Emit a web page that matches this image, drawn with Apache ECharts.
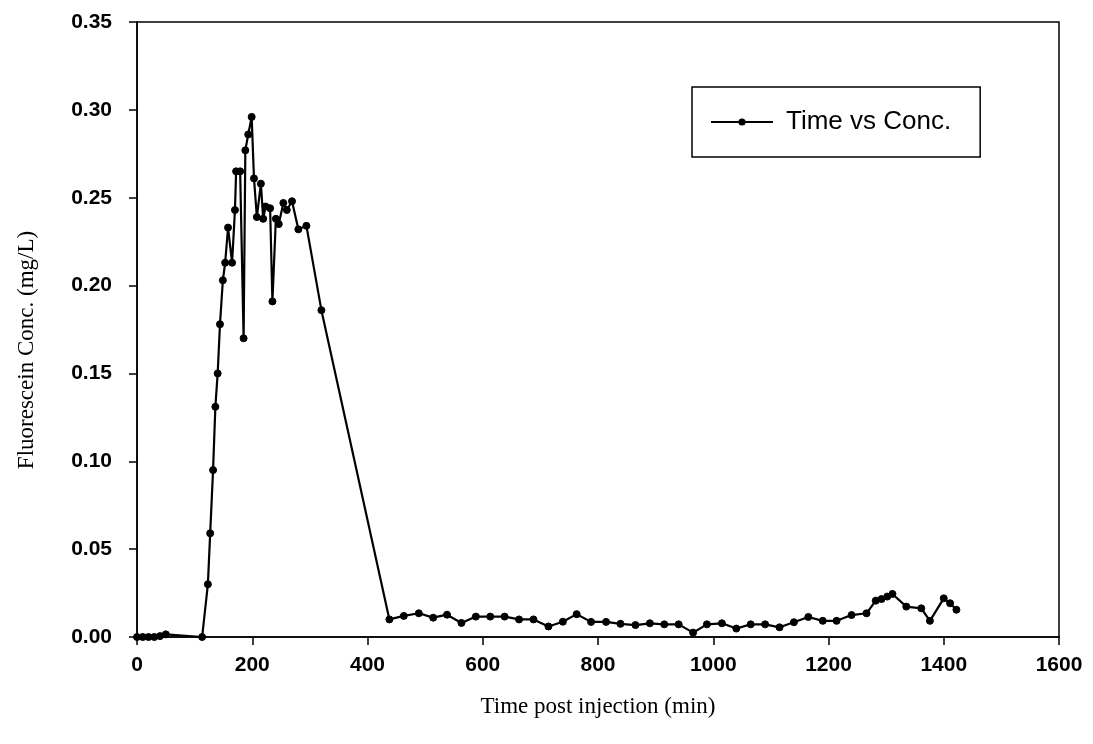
<!DOCTYPE html>
<html><head><meta charset="utf-8">
<script src="https://cdn.jsdelivr.net/npm/echarts@6/dist/echarts.min.js"></script>
<style>html,body{margin:0;padding:0;background:#fff}#c{width:1093px;height:744px}</style>
</head><body><div id="c"></div>
<script>
const timeMin = [0,10,20,30,40,50,113,123,127,132,136,140,144,149,153,158,165,170,172,179,185,188,193,199,203,208,215,219,223,231,235,241,246,254,260,269,280,294,320,
438,463,489,514,538,563,588,613,638,663,688,714,739,763,788,814,839,865,890,915,940,965,989,1015,1040,1065,1090,1115,1140,1165,1190,1214,1240,1266,1282,1292,1302,1311,1335,1361,1376,1400,1411,1422];
const concMgL = [0,0,0,0,0.0005,0.0015,0,0.030,0.059,0.095,0.131,0.150,0.178,0.203,0.213,0.233,0.213,0.243,0.265,0.265,0.170,0.277,0.286,0.296,0.261,0.239,0.258,0.238,0.245,0.244,0.191,0.238,0.235,0.247,0.243,0.248,0.232,0.234,0.186,
0.010,0.012,0.0135,0.011,0.0127,0.008,0.0116,0.0116,0.0116,0.010,0.010,0.006,0.0087,0.013,0.0086,0.0086,0.0075,0.0068,0.0078,0.0072,0.0072,0.0025,0.0072,0.0078,0.0048,0.0072,0.0072,0.0055,0.0084,0.0114,0.0092,0.0092,0.0125,0.0135,0.0207,0.0216,0.023,0.0245,0.0173,0.0163,0.0092,0.022,0.0192,0.0155];
const seriesName = 'Time vs Conc.';
const xTitle = 'Time post injection (min)';
const yTitle = 'Fluorescein Conc. (mg/L)';

const chart = echarts.init(document.getElementById('c'));
const pts = timeMin.map((t,i)=>[t, concMgL[i]]);
const lab = {color:'#000', fontFamily:'Liberation Sans, Arial, sans-serif', fontSize:21, fontWeight:'bold'};
chart.setOption({
  backgroundColor:'#fff',
  animation:false,
  grid:{left:137, right:34, top:22, bottom:107, show:true, borderColor:'#000', borderWidth:1.5, backgroundColor:'transparent'},
  legend:{
    left:692, top:87, orient:'horizontal',
    padding:[22, 29, 22, 18],
    borderColor:'#000', borderWidth:1.5,
    itemWidth:62, itemHeight:9, itemGap:10,
    textStyle:{color:'#000', fontFamily:'Liberation Sans, Arial, sans-serif', fontSize:26, padding:[0,0,0,8]},
    data:[{name:seriesName}]
  },
  graphic:[{
    type:'text', x:27, y:350, rotation:Math.PI/2,
    style:{text:yTitle, fill:'#000', font:'23px "Liberation Serif", "Times New Roman", serif', textAlign:'center', textVerticalAlign:'middle'}
  }],
  xAxis:{
    type:'value', min:0, max:1600, interval:200,
    name:xTitle, nameLocation:'middle', nameGap:58,
    nameTextStyle:{color:'#000', fontFamily:'Liberation Serif, Times New Roman, serif', fontSize:23},
    axisLine:{show:true, lineStyle:{color:'#000', width:1.5}},
    axisTick:{show:true, inside:false, length:8, lineStyle:{color:'#000', width:1.5}},
    axisLabel:Object.assign({margin:18, formatter:v=>String(v)}, lab),
    splitLine:{show:false}
  },
  yAxis:{
    type:'value', min:0, max:0.35, interval:0.05,
    axisLine:{show:true, lineStyle:{color:'#000', width:1.5}},
    axisTick:{show:true, inside:false, length:8, lineStyle:{color:'#000', width:1.5}},
    axisLabel:Object.assign({margin:25, formatter:v=>v.toFixed(2)}, lab),
    splitLine:{show:false}
  },
  series:[{
    name:seriesName, type:'line', data:pts,
    symbol:'circle', symbolSize:7, showAllSymbol:true,
    lineStyle:{color:'#000', width:2.2},
    itemStyle:{color:'#000', borderColor:'#000'}
  }]
});
</script></body></html>
